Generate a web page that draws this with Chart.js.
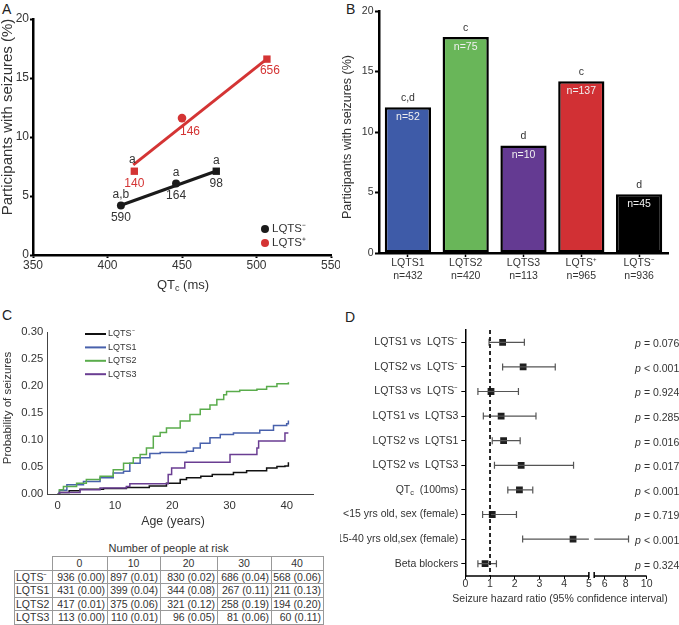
<!DOCTYPE html>
<html>
<head>
<meta charset="utf-8">
<script src="https://cdn.jsdelivr.net/npm/chart.js@4.4.1/dist/chart.umd.min.js"></script>
<style>
  html, body { margin: 0; padding: 0; background: #fff; }
  body { width: 679px; height: 625px; position: relative; overflow: hidden;
         font-family: "Liberation Sans", Arial, sans-serif; color: #333; }
  .panel { position: absolute; }
  .tag { position: absolute; font-size: 14px; line-height: 14px; color: #222; }
  #riskTitle { position: absolute; left: 14px; top: 541px; width: 309px; text-align: center;
               font-size: 11px; line-height: 14px; }
  #risk { position: absolute; left: 14px; top: 556px; width: 309px; border-collapse: collapse;
          table-layout: fixed; font-size: 10.5px; }
  #risk td { border: 1px solid #999; height: 12.5px; line-height: 12px; padding: 0 2px 0 1px;
             text-align: right; white-space: nowrap; overflow: hidden; }
  #risk td.hd { text-align: center; }
  #risk td.nm { text-align: left; }
  #risk td.blank { border-top: none; border-left: none; }
</style>
</head>
<body>

<div class="tag" style="left:2px;top:2px">A</div>
<div class="tag" style="left:346px;top:2px">B</div>
<div class="tag" style="left:2px;top:308px">C</div>
<div class="tag" style="left:345px;top:310px">D</div>

<div class="panel" style="left:0;top:0;width:340px;height:300px"><canvas id="cA"></canvas></div>
<div class="panel" style="left:340px;top:0;width:339px;height:300px"><canvas id="cB"></canvas></div>
<div class="panel" style="left:0;top:300px;width:340px;height:235px"><canvas id="cC"></canvas></div>
<div class="panel" style="left:340px;top:300px;width:339px;height:325px"><canvas id="cD"></canvas></div>

<div id="riskTitle">Number of people at risk</div>
<table id="risk">
  <colgroup>
    <col style="width:38px"><col style="width:55px"><col style="width:53px">
    <col style="width:57px"><col style="width:54px"><col style="width:52px">
  </colgroup>
  <tbody id="riskBody"></tbody>
</table>

<script>
/* ── A: QTc vs seizures ── */
const qtcNeg = [409, 446, 473];
const pctNeg = [4.2, 6.05, 7.1];
const nNeg = ['590', '164', '98'];
const supNeg = ['a,b', 'a', 'a'];
const qtcPos = [418, 450, 507];
const pctPos = [7.1, 11.6, 16.6];
const nPos = ['140', '146', '656'];
const supPos = ['a', '', ''];
const fitNegQtc = [409.5, 474];
const fitNegPct = [4.24, 7.16];
const fitPosQtc = [417.3, 506.8];
const fitPosPct = [7.64, 16.6];
const qtcTicks = [350, 400, 450, 500, 550];
const pctTicks = [0, 5, 10, 15, 20];

/* ── B: genotype bars ── */
const groupsB = [['LQTS1', 'n=432'], ['LQTS2', 'n=420'], ['LQTS3', 'n=113'], ['LQTS⁺', 'n=965'], ['LQTS⁻', 'n=936']];
const pctB = [12.05, 17.85, 8.88, 14.2, 4.85];
const casesB = ['n=52', 'n=75', 'n=10', 'n=137', 'n=45'];
const lettersB = ['c,d', 'c', 'd', 'c', 'd'];

/* ── C: Kaplan-Meier ── */
const ageNeg  = [0, 0.3, 2, 3.9, 8, 12, 16, 19, 21.4, 22.5, 25, 27, 30.7, 33, 36.5, 38.3, 39.7, 40.3];
const probNeg = [0, 0.003, 0.006, 0.009, 0.010, 0.012, 0.015, 0.020, 0.027, 0.030, 0.033, 0.036, 0.040, 0.043, 0.048, 0.051, 0.052, 0.059];
const ageL1  = [0, 0.3, 1.6, 4.5, 7.4, 9.7, 11.5, 12.6, 14.4, 16.1, 17.9, 22.5, 23.7, 24.9, 26.6, 28.4, 30.7, 35.3, 37.7, 40, 40.3];
const probL1 = [0, 0.007, 0.017, 0.023, 0.030, 0.039, 0.042, 0.057, 0.067, 0.075, 0.077, 0.079, 0.085, 0.094, 0.104, 0.110, 0.113, 0.118, 0.127, 0.130, 0.136];
const ageL2  = [0, 0.3, 1, 3.3, 5, 7.4, 9.7, 11.5, 13.2, 14.4, 15.5, 16.7, 17.9, 19, 21.4, 23.1, 24.9, 26.6, 27.8, 29, 29.5, 31.8, 34.8, 36.5, 38.3, 40.3];
const probL2 = [0, 0.008, 0.014, 0.020, 0.027, 0.033, 0.045, 0.057, 0.067, 0.073, 0.085, 0.107, 0.114, 0.122, 0.135, 0.147, 0.157, 0.165, 0.175, 0.184, 0.190, 0.192, 0.194, 0.199, 0.204, 0.207];
const ageL3  = [0, 0.3, 3.9, 7.4, 12, 12.6, 19.3, 19.9, 22.2, 30.1, 34.8, 35.1, 39.7, 40.3];
const probL3 = [0, 0.003, 0.008, 0.011, 0.014, 0.019, 0.036, 0.048, 0.059, 0.073, 0.085, 0.098, 0.113, 0.113];
const ageTicks = [0, 10, 20, 30, 40];
const probTicks = [0, 0.05, 0.10, 0.15, 0.20, 0.25, 0.30];

/* ── C: at-risk table ── */
const riskAges = [0, 10, 20, 30, 40];
const riskGroups = ['LQTS⁻', 'LQTS1', 'LQTS2', 'LQTS3'];
const riskN = [[936, 897, 830, 686, 568], [431, 399, 344, 267, 211], [417, 375, 321, 258, 194], [113, 110, 96, 81, 60]];
const riskP = [[0.00, 0.01, 0.02, 0.04, 0.06], [0.00, 0.04, 0.08, 0.11, 0.13], [0.01, 0.06, 0.12, 0.19, 0.20], [0.00, 0.01, 0.05, 0.06, 0.11]];

/* ── D: forest plot ── */
const termsD = ['LQTS1 vs  LQTS⁻', 'LQTS2 vs  LQTS⁻', 'LQTS3 vs  LQTS⁻', 'LQTS1 vs  LQTS3', 'LQTS2 vs  LQTS1',
                'LQTS2 vs  LQTS3', 'QTc (100ms)', '<15 yrs old, sex (female)', '15-40 yrs old,sex (female)', 'Beta blockers'];
const hrD = [1.51, 2.34, 1.04, 1.45, 1.55, 2.26, 2.19, 1.09, 4.36, 0.80];
const loD = [0.96, 1.51, 0.51, 0.73, 1.09, 1.18, 1.72, 0.70, 2.32, 0.51];
const hiD = [2.39, 3.64, 2.15, 2.86, 2.22, 4.38, 2.73, 2.07, 8.27, 1.26];
const pD = ['= 0.076', '< 0.001', '= 0.924', '= 0.285', '= 0.016', '= 0.017', '< 0.001', '= 0.719', '< 0.001', '= 0.324'];
const hrTicks = [0, 1, 2, 3, 4, 5, 6, 8, 10];

/* ── Estilos comunes ── */
const FONT = '"Liberation Sans", Arial, sans-serif';
const RED = '#d43434';
Chart.defaults.font.family = FONT;
Chart.defaults.color = '#333';
Chart.defaults.animation = false;
Chart.defaults.plugins.legend.display = false;
Chart.defaults.plugins.tooltip.enabled = false;

function fixW(w) { return s => { s.width = w; s.paddingTop = 0; s.paddingBottom = 0; }; }
function fixH(h) { return s => { s.height = h; s.paddingLeft = 0; s.paddingRight = 0; }; }
function setTicks(vals) { return s => { s.ticks = vals.map(v => ({ value: v })); }; }

function txt(ctx, s, x, y, o = {}) {
  ctx.save();
  ctx.font = `${o.italic ? 'italic ' : ''}${o.size || 11}px ${FONT}`;
  ctx.fillStyle = o.color || '#333';
  ctx.textAlign = o.align || 'center';
  ctx.textBaseline = 'middle';
  if (o.rot) { ctx.translate(x, y); ctx.rotate(o.rot); ctx.fillText(s, 0, 0); }
  else ctx.fillText(s, x, y);
  ctx.restore();
}

// QT con subíndice c
function qtcText(ctx, x, y, size, tail, align) {
  ctx.save();
  const f = s => `${s}px ${FONT}`;
  ctx.font = f(size); const w1 = ctx.measureText('QT').width;
  ctx.font = f(size * 0.7); const w2 = ctx.measureText('c').width;
  ctx.font = f(size); const w3 = ctx.measureText(tail).width;
  const tot = w1 + w2 + w3;
  const x0 = align === 'right' ? x - tot : align === 'center' ? x - tot / 2 : x;
  ctx.fillStyle = '#333'; ctx.textBaseline = 'middle'; ctx.textAlign = 'left';
  ctx.font = f(size); ctx.fillText('QT', x0, y);
  ctx.font = f(size * 0.7); ctx.fillText('c', x0 + w1, y + size * 0.28);
  ctx.font = f(size); ctx.fillText(tail, x0 + w1 + w2, y);
  ctx.restore();
}

const thickAxis = {
  border: { color: '#000', width: 2.5 },
  grid: { drawOnChartArea: false, tickLength: 3, tickColor: '#000', tickWidth: 2 },
};

/* ═══ Panel A ═══ */
const shapeNeg = ['circle', 'circle', 'rect'];
const shapePos = ['rect', 'circle', 'rect'];
const posNumShift = [[0, 12], [8, 14], [3, 12]];

const decoA = {
  id: 'decoA',
  afterDraw(c) {
    const { ctx, scales: { x, y }, chartArea: ca } = c;
    qtcNeg.forEach((q, i) => {
      const px = x.getPixelForValue(q), py = y.getPixelForValue(pctNeg[i]);
      txt(ctx, supNeg[i], px, py - 11, { size: 12 });
      txt(ctx, nNeg[i], px, py + 12, { size: 12 });
    });
    qtcPos.forEach((q, i) => {
      const px = x.getPixelForValue(q), py = y.getPixelForValue(pctPos[i]);
      if (supPos[i]) txt(ctx, supPos[i], px - 2, py - 12, { size: 12 });
      txt(ctx, nPos[i], px + posNumShift[i][0], py + posNumShift[i][1], { size: 12, color: RED });
    });
    // leyenda
    const lx = ca.right - 66, ly = ca.bottom - 26;
    [['#1a1a1a', 'LQTS⁻'], [RED, 'LQTS⁺']].forEach(([col, lab], i) => {
      ctx.beginPath(); ctx.fillStyle = col;
      ctx.arc(lx, ly + i * 14, 4, 0, Math.PI * 2); ctx.fill();
      txt(ctx, lab, lx + 7, ly + i * 14, { size: 11.5, align: 'left' });
    });
    qtcText(ctx, 183, 285, 13, ' (ms)', 'center');
    txt(ctx, 'Participants with seizures (%)', 8, 117, { size: 15, rot: -Math.PI / 2 });
  }
};

new Chart(document.getElementById('cA'), {
  type: 'scatter',
  data: {
    datasets: [
      { type: 'line', data: fitNegQtc.map((q, i) => ({ x: q, y: fitNegPct[i] })), borderColor: '#1a1a1a', borderWidth: 3, pointRadius: 0 },
      { type: 'line', data: fitPosQtc.map((q, i) => ({ x: q, y: fitPosPct[i] })), borderColor: RED, borderWidth: 3, pointRadius: 0 },
      { data: qtcNeg.map((q, i) => ({ x: q, y: pctNeg[i] })), pointStyle: shapeNeg, pointRadius: [4, 4, 5.2], backgroundColor: '#1a1a1a', borderWidth: 0 },
      { data: qtcPos.map((q, i) => ({ x: q, y: pctPos[i] })), pointStyle: shapePos, pointRadius: [5.2, 4.3, 5.2], backgroundColor: RED, borderWidth: 0 },
    ]
  },
  options: {
    responsive: true, maintainAspectRatio: false,
    layout: { padding: { left: 0, top: 19, right: 9, bottom: 0 } },
    scales: {
      x: { type: 'linear', min: 350, max: 550, afterBuildTicks: setTicks(qtcTicks), afterFit: fixH(45), ...thickAxis,
           ticks: { font: { size: 12 }, padding: 0, color: '#333' } },
      y: { min: 0, max: 20, afterBuildTicks: setTicks(pctTicks), afterFit: fixW(33), ...thickAxis,
           ticks: { font: { size: 12 }, padding: 1, color: '#333' } },
    }
  },
  plugins: [decoA]
});

/* ═══ Panel B ═══ */
const colorsB = ['#3e5ba8', '#69b659', '#643a92', '#d13034', '#000000'];

const decoB = {
  id: 'decoB',
  afterDraw(c) {
    const ctx = c.ctx;
    c.getDatasetMeta(0).data.forEach((bar, i) => {
      txt(ctx, lettersB[i], bar.x, bar.y - 9, { size: 10.5 });
      txt(ctx, casesB[i], bar.x, bar.y + 10, { size: 10.5, color: '#f0f0f0' });
    });
    txt(ctx, 'Participants with seizures (%)', 8, 137, { size: 12.5, rot: -Math.PI / 2 });
  }
};

new Chart(document.getElementById('cB'), {
  type: 'bar',
  data: {
    labels: groupsB,
    datasets: [{ data: pctB, backgroundColor: colorsB, borderColor: '#000', borderWidth: 2.5, borderSkipped: false,
                 categoryPercentage: 1, barPercentage: 0.8 }]
  },
  options: {
    responsive: true, maintainAspectRatio: false,
    layout: { padding: { left: 0, top: 11, right: 11, bottom: 0 } },
    scales: {
      x: { afterFit: fixH(47), border: { color: '#000', width: 2.5 },
           grid: { drawOnChartArea: false, offset: false, tickLength: 4, tickColor: '#000', tickWidth: 1.5 },
           ticks: { font: { size: 10.5 }, padding: 0, color: '#333' } },
      y: { min: 0, max: 20, afterBuildTicks: setTicks(pctTicks), afterFit: fixW(39),
           border: { color: '#000', width: 2.5 },
           grid: { drawOnChartArea: false, tickLength: 4, tickColor: '#000', tickWidth: 2 },
           ticks: { font: { size: 10.5 }, padding: 1.5, color: '#333' } },
    }
  },
  plugins: [decoB]
});

/* ═══ Panel C ═══ */
const kmSeries = [
  { label: 'LQTS⁻', ages: ageNeg, probs: probNeg, color: '#111111' },
  { label: 'LQTS1', ages: ageL1, probs: probL1, color: '#4861ac' },
  { label: 'LQTS2', ages: ageL2, probs: probL2, color: '#5aac4c' },
  { label: 'LQTS3', ages: ageL3, probs: probL3, color: '#6a3d92' },
];

const decoC = {
  id: 'decoC',
  afterDraw(c) {
    const ctx = c.ctx;
    kmSeries.forEach((s, i) => {
      const y = 34 + i * 13.4;
      ctx.save(); ctx.strokeStyle = s.color; ctx.lineWidth = 2;
      ctx.beginPath(); ctx.moveTo(85, y); ctx.lineTo(106, y); ctx.stroke(); ctx.restore();
      txt(ctx, s.label, 108, y, { size: 9, align: 'left' });
    });
    txt(ctx, 'Probability of seizures', 8, 108, { size: 11.5, rot: -Math.PI / 2 });
    txt(ctx, 'Age (years)', 173, 222, { size: 12.3 });
  }
};

new Chart(document.getElementById('cC'), {
  type: 'line',
  data: {
    datasets: kmSeries.slice().reverse().map(s => ({
      data: s.ages.map((a, i) => ({ x: a, y: s.probs[i] })),
      borderColor: s.color, borderWidth: 1.5, pointRadius: 0, stepped: true, fill: false
    }))
  },
  options: {
    responsive: true, maintainAspectRatio: false,
    layout: { padding: { left: 0, top: 32, right: 27, bottom: 0 } },
    scales: {
      x: { type: 'linear', min: -1.75, max: 44.6, afterBuildTicks: setTicks(ageTicks), afterFit: fixH(41),
           border: { color: '#444', width: 1 }, grid: { drawOnChartArea: false, drawTicks: false },
           ticks: { font: { size: 11.3 }, padding: 5, color: '#333' } },
      y: { min: 0, max: 0.30, afterBuildTicks: setTicks(probTicks), afterFit: fixW(47.7),
           border: { color: '#444', width: 1 }, grid: { drawOnChartArea: false, drawTicks: false },
           ticks: { font: { size: 11.3 }, padding: 4.5, color: '#333', callback: v => v.toFixed(2) } },
    }
  },
  plugins: [decoC]
});

/* ── Tabla de riesgo ── */
(function buildRisk() {
  const tb = document.getElementById('riskBody');
  let html = '<tr><td class="blank"></td>' + riskAges.map(a => `<td class="hd">${a}</td>`).join('') + '</tr>';
  riskGroups.forEach((g, gi) => {
    html += `<tr><td class="nm">${g}</td>` +
      riskN[gi].map((n, i) => `<td>${n} (${riskP[gi][i].toFixed(2)})</td>`).join('') + '</tr>';
  });
  tb.innerHTML = html;
})();

/* ═══ Panel D ═══ */
const BRK = 5, GAP = 0.215, K = 0.425;
const hrPos = v => v <= BRK ? v : BRK + GAP + (v - BRK) * K;

const whiskers = [];
termsD.forEach((_, i) => {
  if (hiD[i] > BRK && loD[i] < BRK) {
    whiskers.push({ pts: [loD[i], BRK], y: i, caps: [3.5, 0] });
    whiskers.push({ pts: [BRK + 1e-6, hiD[i]], y: i, caps: [0, 3.5], brk: true });
  } else {
    whiskers.push({ pts: [loD[i], hiD[i]], y: i, caps: [3.5, 3.5] });
  }
});

const decoD = {
  id: 'decoD',
  afterDraw(c) {
    const { ctx, scales: { x, y }, chartArea: ca } = c;
    const b = ca.bottom;
    const x5 = x.getPixelForValue(BRK), x5b = x.getPixelForValue(BRK + GAP);
    ctx.save(); ctx.strokeStyle = '#000'; ctx.lineWidth = 1.5;
    ctx.beginPath();
    ctx.moveTo(ca.left, b); ctx.lineTo(x5, b);
    ctx.moveTo(x5b, b); ctx.lineTo(ca.right, b);
    ctx.moveTo(x5, b - 4); ctx.lineTo(x5, b + 2);
    ctx.moveTo(x5b, b - 4); ctx.lineTo(x5b, b + 2);
    ctx.stroke(); ctx.restore();
    termsD.forEach((t, i) => {
      const py = y.getPixelForValue(i);
      if (i === 6) qtcText(ctx, ca.left - 7, py, 10.5, '  (100ms)', 'right');
      txt(ctx, 'p', 295, py + 2, { size: 10.5, italic: true, align: 'left' });
      txt(ctx, ' ' + pD[i], 301, py + 2, { size: 10.5, align: 'left' });
    });
    txt(ctx, 'Seizure hazard ratio (95% confidence interval)', 220, 299, { size: 10.5 });
  }
};

new Chart(document.getElementById('cD'), {
  type: 'scatter',
  data: {
    datasets: [
      { type: 'line', data: [{ x: 1, y: -0.5 }, { x: 1, y: 9.5 }], borderColor: '#111', borderWidth: 1.8,
        borderDash: [4, 3], pointRadius: 0 },
      ...whiskers.map(w => ({
        type: 'line', data: w.pts.map(v => ({ x: w.brk && v <= BRK + 1e-3 ? BRK + GAP : hrPos(v), y: w.y })),
        borderColor: '#555', borderWidth: 1.2, pointStyle: 'line', rotation: 90,
        pointRadius: w.caps, pointBorderColor: '#555', pointBorderWidth: 1.2
      })),
      { data: hrD.map((h, i) => ({ x: hrPos(h), y: i })), pointStyle: 'rect', pointRadius: 4.8,
        backgroundColor: '#1f1f1f', borderWidth: 0 },
    ]
  },
  options: {
    responsive: true, maintainAspectRatio: false,
    layout: { padding: { left: 0, top: 30, right: 32.3, bottom: 0 } },
    scales: {
      x: { type: 'linear', min: 0, max: hrPos(10), afterBuildTicks: setTicks(hrTicks.map(hrPos)), afterFit: fixH(49),
           border: { display: false },
           grid: { drawOnChartArea: false, tickLength: 3, tickColor: '#000', tickWidth: 1 },
           ticks: { font: { size: 10.5 }, padding: -1, color: '#333', autoSkip: false, maxRotation: 0,
                    callback: (v, i) => hrTicks[i] } },
      y: { type: 'linear', reverse: true, min: -0.5, max: 9.5, afterBuildTicks: setTicks(termsD.map((_, i) => i)),
           afterFit: fixW(125.3), border: { color: '#000', width: 1.5 },
           grid: { drawOnChartArea: false, tickLength: 4, tickColor: '#000', tickWidth: 1 },
           ticks: { font: { size: 10.5 }, padding: 3, color: '#333', autoSkip: false,
                    callback: (v, i) => (i === 6 ? '' : termsD[i]) } },
    }
  },
  plugins: [decoD]
});
</script>
</body>
</html>
